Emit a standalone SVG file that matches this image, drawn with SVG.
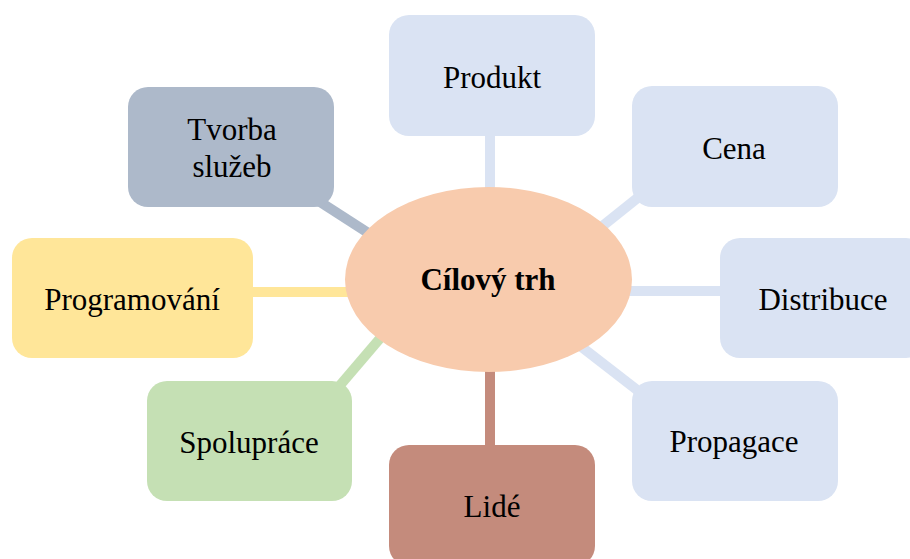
<svg xmlns="http://www.w3.org/2000/svg" width="910" height="559" viewBox="0 0 910 559">
<style>
text{font-family:"Liberation Serif","Times New Roman",serif;font-size:31px;fill:#000;text-anchor:middle}
.b{fill:#DAE3F3}
.c line{stroke-width:10}
</style>
<rect width="910" height="559" fill="#fff"/>
<g id="connectors" class="c">
<line x1="490" y1="130" x2="490" y2="200" stroke="#DAE3F3"/>
<line x1="650" y1="188" x2="580" y2="244" stroke="#DAE3F3"/>
<line x1="620" y1="291" x2="725" y2="291" stroke="#DAE3F3"/>
<line x1="570" y1="338" x2="650" y2="400" stroke="#DAE3F3"/>
<line x1="490" y1="360" x2="490" y2="450" stroke="#C48B7C"/>
<line x1="330" y1="397" x2="400" y2="315" stroke="#C5E0B4"/>
<line x1="250" y1="292" x2="360" y2="292" stroke="#FFE699"/>
<line x1="300" y1="189" x2="390" y2="247" stroke="#ADB9CA"/>
</g>
<g id="center">
<ellipse cx="488.5" cy="279.5" rx="143.5" ry="92.5" fill="#F8CBAD"/>
<text x="488" y="290" font-weight="bold">Cílový trh</text>
</g>
<g id="produkt">
<rect class="b" x="389" y="15" width="206" height="121" rx="20"/>
<text x="492" y="88">Produkt</text>
</g>
<g id="cena">
<rect class="b" x="632" y="86" width="206" height="121" rx="20"/>
<text x="734" y="159">Cena</text>
</g>
<g id="distribuce">
<rect class="b" x="720" y="238" width="206" height="120" rx="20"/>
<text x="823" y="310">Distribuce</text>
</g>
<g id="propagace">
<rect class="b" x="632" y="381" width="206" height="120" rx="20"/>
<text x="734" y="452">Propagace</text>
</g>
<g id="lide">
<rect x="389" y="445" width="206" height="121" rx="20" fill="#C48B7C"/>
<text x="492" y="517">Lidé</text>
</g>
<g id="spoluprace">
<rect x="147" y="381" width="205" height="120" rx="20" fill="#C5E0B4"/>
<text x="249" y="453">Spolupráce</text>
</g>
<g id="programovani">
<rect x="12" y="238" width="241" height="120" rx="20" fill="#FFE699"/>
<text x="132" y="310">Programování</text>
</g>
<g id="tvorba">
<rect x="128" y="87" width="206" height="120" rx="20" fill="#ADB9CA"/>
<text x="232" y="140">Tvorba</text>
<text x="232" y="177">služeb</text>
</g>
</svg>
